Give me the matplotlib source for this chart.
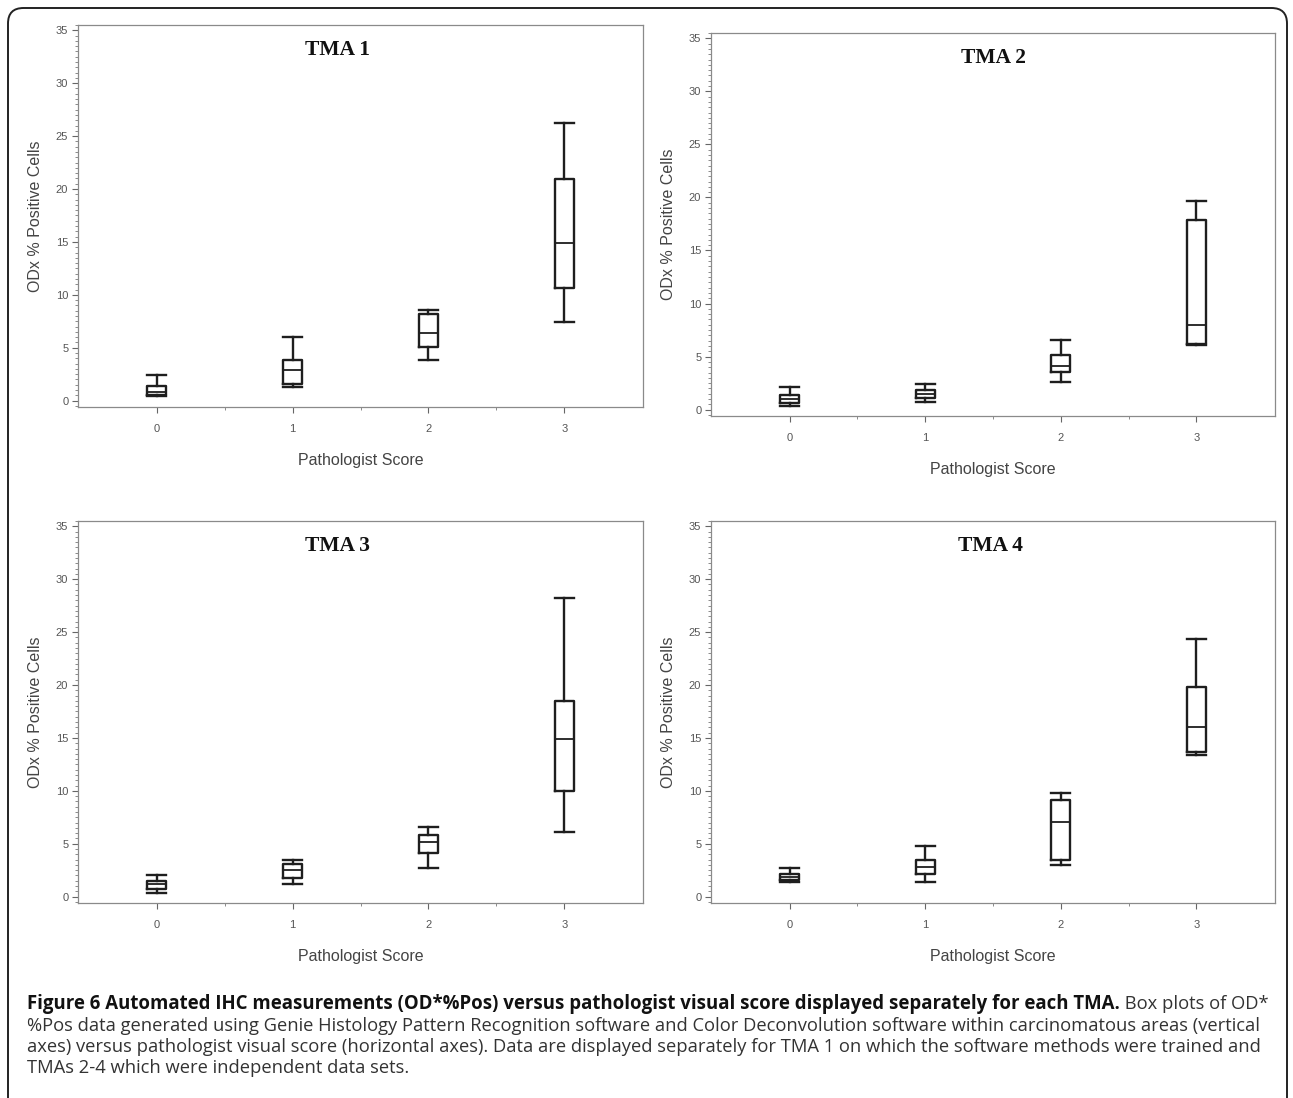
import matplotlib
matplotlib.use("Agg")
import matplotlib.pyplot as plt
from matplotlib import font_manager
from matplotlib.patches import FancyBboxPatch
from matplotlib.ticker import MultipleLocator, FixedLocator

# ---------------- data ----------------
scores = [0, 1, 2, 3]
tick_labels = ["0", "1", "2", "3"]
panel_titles = ["TMA 1", "TMA 2", "TMA 3", "TMA 4"]

tma1_low = [0.45, 1.25, 3.85, 7.45]
tma1_q1 = [0.5, 1.6, 5.1, 10.6]
tma1_med = [0.8, 2.85, 6.4, 14.9]
tma1_q3 = [1.4, 3.85, 8.15, 20.95]
tma1_high = [2.45, 6.05, 8.6, 26.2]

tma2_low = [0.35, 0.75, 2.6, 6.05]
tma2_q1 = [0.65, 1.1, 3.55, 6.15]
tma2_med = [1.0, 1.5, 4.1, 8.0]
tma2_q3 = [1.4, 1.85, 5.15, 17.9]
tma2_high = [2.15, 2.45, 6.55, 19.7]

tma3_low = [0.3, 1.15, 2.7, 6.15]
tma3_q1 = [0.7, 1.8, 4.15, 9.95]
tma3_med = [1.15, 2.5, 5.2, 14.9]
tma3_q3 = [1.5, 3.05, 5.8, 18.45]
tma3_high = [2.0, 3.45, 6.6, 28.2]

tma4_low = [1.4, 1.4, 2.95, 13.4]
tma4_q1 = [1.6, 2.15, 3.5, 13.7]
tma4_med = [1.85, 2.8, 7.1, 16.0]
tma4_q3 = [2.15, 3.5, 9.1, 19.8]
tma4_high = [2.7, 4.8, 9.75, 24.35]

y_label = "ODx % Positive Cells"
x_label = "Pathologist Score"

caption_bold = ("Figure 6 Automated IHC measurements (OD*%Pos) versus pathologist "
                "visual score displayed separately for each TMA.")
caption_line1_rest = " Box plots of OD*"
caption_lines = [
    "%Pos data generated using Genie Histology Pattern Recognition software and Color "
    "Deconvolution software within carcinomatous areas (vertical",
    "axes) versus pathologist visual score (horizontal axes). Data are displayed "
    "separately for TMA 1 on which the software methods were trained and",
    "TMAs 2-4 which were independent data sets.",
]

# ---------------- fonts ----------------
available = {f.name for f in font_manager.fontManager.ttflist}
axis_font = "Liberation Sans" if "Liberation Sans" in available else "DejaVu Sans"
cap_font = "Open Sans" if "Open Sans" in available else "DejaVu Sans"

W, H = 1293, 1098
fig = plt.figure(figsize=(W / 100, H / 100), dpi=100)
fig.patch.set_facecolor("white")


def px_rect(l, t, r, b):
    return [l / W, 1 - b / H, (r - l) / W, (b - t) / H]


panels = [
    ((78, 25, 643, 407), (tma1_low, tma1_q1, tma1_med, tma1_q3, tma1_high), 0.46),
    ((711, 33, 1275, 416), (tma2_low, tma2_q1, tma2_med, tma2_q3, tma2_high), 0.50),
    ((78, 521, 643, 903), (tma3_low, tma3_q1, tma3_med, tma3_q3, tma3_high), 0.46),
    ((711, 521, 1275, 903), (tma4_low, tma4_q1, tma4_med, tma4_q3, tma4_high), 0.495),
]

box_col = "#1e1e1e"
for (rect, series, tx), title in zip(panels, panel_titles):
    ax = fig.add_axes(px_rect(*rect))
    low, q1, med, q3, high = series
    stats = [dict(whislo=a, q1=b, med=c, q3=d, whishi=e, fliers=[])
             for a, b, c, d, e in zip(low, q1, med, q3, high)]
    ax.bxp(stats, positions=scores, widths=0.14, capwidths=0.14, showfliers=False,
           boxprops=dict(color=box_col, lw=1.7),
           medianprops=dict(color=box_col, lw=1.3),
           whiskerprops=dict(color=box_col, lw=1.7),
           capprops=dict(color=box_col, lw=1.7))
    ax.set_xlim(-0.58, 3.58)
    ax.set_ylim(-0.6, 35.5)
    ax.xaxis.set_major_locator(FixedLocator(scores))
    ax.set_xticklabels(tick_labels)
    ax.xaxis.set_minor_locator(FixedLocator([0.5, 1.5, 2.5]))
    ax.yaxis.set_major_locator(MultipleLocator(5))
    ax.yaxis.set_minor_locator(MultipleLocator(0.5))
    for s in ax.spines.values():
        s.set_color("#8a8a8a")
        s.set_linewidth(0.9)
    ax.tick_params(axis="both", which="major", direction="out", length=4,
                   width=0.8, color="#666666", labelsize=8, labelcolor="#555555")
    ax.tick_params(axis="x", which="major", pad=8)
    ax.tick_params(axis="y", which="major", pad=3)
    ax.tick_params(axis="both", which="minor", direction="out", length=2,
                   width=0.6, color="#777777")
    for lab in ax.get_xticklabels() + ax.get_yticklabels():
        lab.set_family(axis_font)
    ax.set_ylabel(y_label, family=axis_font, fontsize=11.5, color="#444444", labelpad=9)
    ax.set_xlabel(x_label, family=axis_font, fontsize=11.5, color="#444444", labelpad=14)
    ax.text(tx, 0.935, title, transform=ax.transAxes, ha="center", va="center",
            family="Liberation Serif", fontweight="bold", fontsize=15.5, color="#111111")

# ---------------- caption ----------------
renderer = fig.canvas.get_renderer()


def fitted_size(text, target_px, weight="normal"):
    probe = fig.text(0, 0, text, family=cap_font, fontweight=weight, fontsize=10)
    w = probe.get_window_extent(renderer).width
    probe.remove()
    return 10 * target_px / w


x0 = 27
baselines = [1009, 1031, 1052, 1073]
bold_size = fitted_size(caption_bold, 1118 - x0, "bold")
reg_size = fitted_size(caption_lines[0], 1263 - x0)

t1 = fig.text(x0 / W, 1 - baselines[0] / H, caption_bold, family=cap_font,
              fontweight="bold", fontsize=bold_size, va="baseline", ha="left",
              color="#111111")
bb = t1.get_window_extent(renderer)
fig.text(bb.x1 / W, 1 - baselines[0] / H, caption_line1_rest, family=cap_font,
         fontsize=reg_size, va="baseline", ha="left", color="#333333")
for line, yy in zip(caption_lines, baselines[1:]):
    fig.text(x0 / W, 1 - yy / H, line, family=cap_font, fontsize=reg_size,
             va="baseline", ha="left", color="#333333")

# ---------------- rounded frame ----------------
frame = FancyBboxPatch((8 / W, -0.05), (1287 - 8) / W, 1.05 - 8 / H,
                       boxstyle="round,pad=0,rounding_size=0.012",
                       transform=fig.transFigure, fill=False, ec="#222222", lw=1.4,
                       mutation_aspect=W / H)
fig.patches.append(frame)

fig.savefig("out.png", dpi=100, facecolor="white")
